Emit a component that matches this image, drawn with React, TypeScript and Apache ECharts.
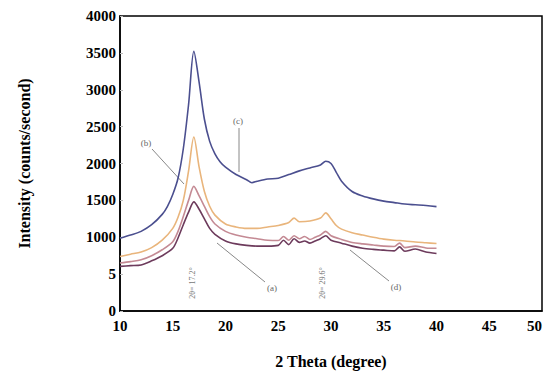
import React, { useEffect, useRef } from "react";
import * as echarts from "echarts";

const xTicks = [10, 15, 20, 25, 30, 35, 40, 45, 50];
const yTicks = [0, 500, 1000, 1500, 2000, 2500, 3000, 3500, 4000];

const xC = [10, 11, 12, 13, 14, 14.5, 15, 15.5, 16, 16.5, 17, 17.5, 18, 18.5, 19, 19.5, 20, 21, 22, 22.5, 23, 24, 25, 26, 27, 28, 29, 29.5, 30, 30.5, 31, 32, 33, 34, 35, 36, 37, 38, 39, 40];
const yC = [985, 1030, 1080, 1170, 1310, 1420, 1580, 1800, 2200, 2800, 3520, 3100, 2600, 2300, 2130, 2020, 1950, 1850, 1780, 1740, 1760, 1790, 1800, 1850, 1900, 1940, 1980, 2030, 2000, 1880, 1760, 1620, 1560, 1520, 1490, 1470, 1450, 1440, 1430, 1415];

const xB = [10, 11, 12, 13, 14, 15, 15.5, 16, 16.5, 17, 17.5, 18, 18.5, 19, 20, 21, 22, 23, 24, 25, 26, 26.5, 27, 28, 29, 29.5, 30, 30.5, 31, 32, 33, 34, 35, 36, 37, 38, 39, 40];
const yB = [740, 770, 800, 860, 960, 1120, 1270, 1500, 1900, 2360, 1950, 1620, 1420, 1300, 1180, 1140, 1120, 1120, 1140, 1160, 1200, 1260, 1210, 1220, 1260, 1330, 1250, 1160, 1110, 1060, 1030, 1000, 975, 960, 950, 935, 925, 915];

const xAD = [10, 11, 12, 13, 14, 15, 15.5, 16, 16.5, 17, 17.5, 18, 18.5, 19, 20, 21, 22, 23, 24, 25, 25.5, 26, 26.5, 27, 27.5, 28, 28.5, 29, 29.5, 30, 31, 32, 33, 34, 35, 36, 36.5, 37, 38, 39, 40];
const yD = [650, 670, 695, 750, 830, 940, 1080, 1280, 1500, 1690, 1560, 1420, 1280, 1180, 1080, 1030, 1000, 980, 960, 955, 1010, 960, 1020, 980, 1010, 970, 1000, 1030, 1080, 1020, 970, 930, 910, 895, 880, 875, 920, 860, 880, 855, 850];
const yA = [605, 615, 625, 680, 750, 850, 990, 1170, 1340, 1480, 1380, 1250, 1120, 1040, 950, 910, 890, 880, 880, 890, 960, 900, 980, 930, 950, 920, 950, 980, 1020, 960, 920, 880, 850, 835, 825, 815, 870, 810, 840, 800, 780];

const zip = (xs: number[], ys: number[]) => xs.map((x, i) => [x, ys[i]]);

export default function App() {
  const ref = useRef<HTMLDivElement>(null);
  useEffect(() => {
    if (!ref.current) return;
    const chart = echarts.init(ref.current, undefined, { renderer: "svg" });
    const serif = "Liberation Serif";
    const lineSeries = (name: string, data: number[][], color: string) => ({
      name,
      type: "line",
      data,
      smooth: 0.3,
      showSymbol: false,
      lineStyle: { color, width: 1.6 },
      itemStyle: { color },
    });
    const annText = (text: string, x: number, y: number) => ({
      type: "text",
      x,
      y,
      style: { text, fontFamily: serif, fontSize: 9, fill: "#666", align: "center", verticalAlign: "middle" },
    });
    const annLine = (x1: number, y1: number, x2: number, y2: number) => ({
      type: "line",
      shape: { x1, y1, x2, y2 },
      style: { stroke: "#888", lineWidth: 1 },
    });
    chart.setOption({
      animation: false,
      grid: { left: 108, top: 8, right: 10, bottom: 61, show: true, borderColor: "#000", borderWidth: 1.5, backgroundColor: "transparent" },
      xAxis: {
        type: "value",
        min: xTicks[0],
        max: xTicks[xTicks.length - 1],
        interval: 5,
        name: "2 Theta (degree)",
        nameLocation: "middle",
        nameGap: 42,
        nameTextStyle: { fontFamily: serif, fontWeight: "bold", fontSize: 16, color: "#000" },
        axisLine: { show: true, lineStyle: { color: "#000", width: 1.5 } },
        axisTick: { show: false },
        splitLine: { show: false },
        axisLabel: { fontFamily: serif, fontWeight: "bold", fontSize: 15, color: "#000", margin: 7, alignMaxLabel: "right" },
      },
      yAxis: {
        type: "value",
        min: yTicks[0],
        max: yTicks[yTicks.length - 1],
        interval: 500,
        name: "Intensity (counts/second)",
        nameLocation: "middle",
        nameGap: 88,
        nameTextStyle: { fontFamily: serif, fontWeight: "bold", fontSize: 16, color: "#000" },
        axisLine: { show: true, lineStyle: { color: "#000", width: 1.5 } },
        axisTick: { show: true, inside: true, length: 3, lineStyle: { color: "#bbb" } },
        splitLine: { show: false },
        axisLabel: {
          fontFamily: serif, fontWeight: "bold", fontSize: 15, color: "#000",
          margin: 4,
          formatter: (v: number) => (v === 500 ? "5" : String(v)),
        },
      },
      series: [
        lineSeries("(c)", zip(xC, yC), "#4b4f8f"),
        lineSeries("(b)", zip(xB, yB), "#e9b57c"),
        lineSeries("(d)", zip(xAD, yD), "#c48a94"),
        lineSeries("(a)", zip(xAD, yA), "#6d3b5c"),
      ],
      graphic: [
        annText("(c)", 230, 113),
        annLine(231, 120, 231, 164),
        annText("(b)", 138, 135),
        annLine(144, 141, 176, 176),
        annText("(a)", 264, 280),
        annLine(257, 274, 209, 235),
        annText("(d)", 388, 279),
        annLine(381, 273, 342, 242),
        {
          type: "text",
          x: 184,
          y: 275,
          rotation: Math.PI / 2,
          style: { text: "2θ= 17.2°", fontFamily: serif, fontSize: 8, fill: "#777", align: "center", verticalAlign: "middle" },
        },
        {
          type: "text",
          x: 314,
          y: 275,
          rotation: Math.PI / 2,
          style: { text: "2θ= 29.6°", fontFamily: serif, fontSize: 8, fill: "#777", align: "center", verticalAlign: "middle" },
        },
      ],
    });
    return () => chart.dispose();
  }, []);
  return <div ref={ref} style={{ width: 544, height: 366 }} />;
}
